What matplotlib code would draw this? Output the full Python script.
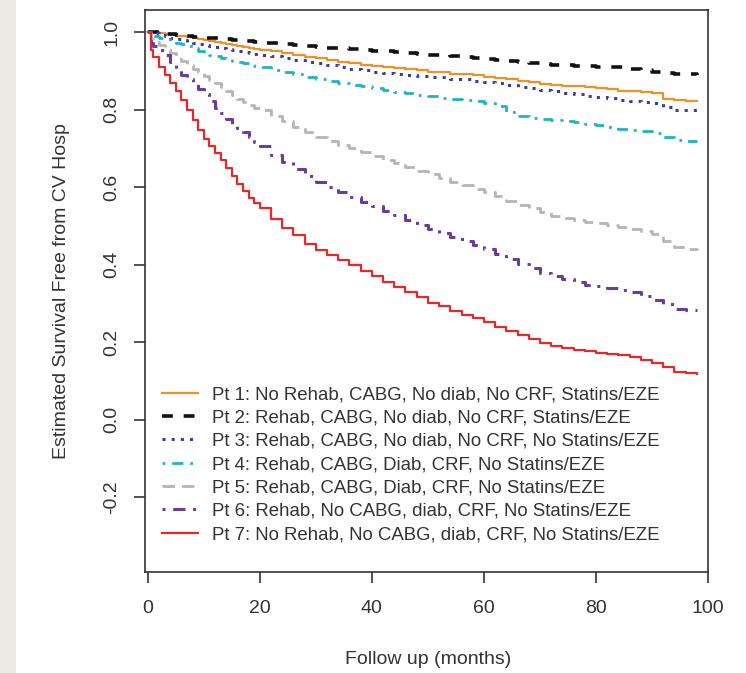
import matplotlib
matplotlib.use("Agg")
import matplotlib.pyplot as plt
from matplotlib.patches import Rectangle

plt.rcParams['font.family'] = ['Liberation Sans', 'DejaVu Sans']

# follow-up time grid (months): monthly up to 20, then every 2 months
months = [0, 0.5, 1, 2, 3, 4, 5, 6, 7, 8, 9, 10, 11, 12, 13, 14, 15, 16, 17, 18, 19, 20,
          22, 24, 26, 28, 30, 32, 34, 36, 38, 40, 42, 44, 46, 48, 50, 52, 54, 56, 58,
          60, 62, 64, 66, 68, 70, 72, 74, 76, 78, 80, 82, 84, 86, 88, 90, 92, 94, 96, 98]

pt1 = [1.0, 1.0, 0.999, 0.997, 0.995, 0.993, 0.991, 0.989, 0.987, 0.985, 0.982, 0.98,
       0.977, 0.975, 0.972, 0.97, 0.967, 0.965, 0.962, 0.96, 0.957, 0.955,
       0.95, 0.946, 0.941, 0.936, 0.932, 0.928, 0.924, 0.92, 0.916, 0.913, 0.91, 0.907,
       0.904, 0.901, 0.898, 0.896, 0.893, 0.891, 0.888, 0.885, 0.882, 0.878, 0.874,
       0.87, 0.867, 0.864, 0.862, 0.86, 0.857, 0.855, 0.852, 0.849, 0.847, 0.845, 0.842,
       0.828, 0.824, 0.823, 0.822]
pt2 = [1.0, 1.0, 1.0, 0.998, 0.996, 0.994, 0.992, 0.99, 0.989, 0.988, 0.987, 0.986,
       0.985, 0.984, 0.982, 0.981, 0.98, 0.979, 0.977, 0.976, 0.974, 0.973,
       0.971, 0.968, 0.966, 0.964, 0.962, 0.96, 0.958, 0.956, 0.954, 0.952, 0.95, 0.948,
       0.946, 0.944, 0.942, 0.94, 0.938, 0.936, 0.933, 0.931, 0.928, 0.926, 0.923, 0.92,
       0.917, 0.915, 0.914, 0.913, 0.912, 0.911, 0.91, 0.909, 0.906, 0.902, 0.898, 0.895,
       0.893, 0.891, 0.889]
pt3 = [1.0, 0.999, 0.997, 0.993, 0.989, 0.985, 0.982, 0.979, 0.975, 0.972, 0.969, 0.967,
       0.964, 0.962, 0.959, 0.957, 0.954, 0.952, 0.949, 0.947, 0.944, 0.942,
       0.937, 0.932, 0.928, 0.923, 0.919, 0.914, 0.91, 0.906, 0.902, 0.898, 0.895, 0.892,
       0.889, 0.887, 0.885, 0.883, 0.88, 0.878, 0.875, 0.872, 0.868, 0.864, 0.859, 0.855,
       0.851, 0.847, 0.843, 0.839, 0.836, 0.832, 0.829, 0.825, 0.822, 0.819, 0.816, 0.806,
       0.8, 0.798, 0.797]
pt4 = [1.0, 0.995, 0.99, 0.986, 0.982, 0.978, 0.973, 0.968, 0.963, 0.958, 0.952, 0.947,
       0.942, 0.938, 0.934, 0.93, 0.926, 0.923, 0.919, 0.916, 0.912, 0.909,
       0.903, 0.897, 0.891, 0.885, 0.879, 0.873, 0.868, 0.864, 0.86, 0.855, 0.851, 0.846,
       0.842, 0.838, 0.834, 0.831, 0.828, 0.825, 0.821, 0.817, 0.81, 0.795, 0.783, 0.779,
       0.776, 0.773, 0.77, 0.767, 0.763, 0.759, 0.755, 0.751, 0.748, 0.744, 0.74, 0.73,
       0.722, 0.72, 0.718]
pt5 = [1.0, 0.982, 0.975, 0.966, 0.956, 0.945, 0.935, 0.925, 0.915, 0.905, 0.896, 0.887,
       0.877, 0.868, 0.858, 0.848, 0.838, 0.828, 0.82, 0.812, 0.805, 0.798,
       0.784, 0.77, 0.756, 0.741, 0.73, 0.719, 0.709, 0.7, 0.69, 0.679, 0.67, 0.661,
       0.653, 0.642, 0.633, 0.624, 0.614, 0.606, 0.596, 0.586, 0.576, 0.565, 0.554, 0.545,
       0.535, 0.525, 0.519, 0.514, 0.51, 0.506, 0.502, 0.498, 0.492, 0.486, 0.478, 0.462,
       0.445, 0.44, 0.437]
pt6 = [1.0, 0.972, 0.965, 0.955, 0.94, 0.922, 0.906, 0.89, 0.878, 0.866, 0.853, 0.84,
       0.822, 0.805, 0.79, 0.776, 0.764, 0.752, 0.741, 0.73, 0.717, 0.705,
       0.683, 0.664, 0.646, 0.629, 0.614, 0.6, 0.586, 0.574, 0.562, 0.55, 0.538, 0.527,
       0.516, 0.503, 0.491, 0.481, 0.47, 0.46, 0.45, 0.44, 0.428, 0.415, 0.402, 0.39,
       0.379, 0.37, 0.362, 0.355, 0.348, 0.344, 0.339, 0.335, 0.329, 0.32, 0.309, 0.297,
       0.286, 0.284, 0.283]
pt7 = [1.0, 0.955, 0.935, 0.91, 0.89, 0.868, 0.847, 0.825, 0.798, 0.772, 0.748, 0.725,
       0.706, 0.688, 0.669, 0.65, 0.628, 0.608, 0.59, 0.572, 0.558, 0.545,
       0.518, 0.495, 0.475, 0.452, 0.437, 0.425, 0.412, 0.398, 0.384, 0.37, 0.356, 0.342,
       0.328, 0.315, 0.302, 0.292, 0.281, 0.27, 0.261, 0.251, 0.24, 0.228, 0.217, 0.207,
       0.198, 0.19, 0.184, 0.179, 0.176, 0.173, 0.17, 0.167, 0.162, 0.153, 0.146, 0.135,
       0.122, 0.119, 0.118]

labels = ["Pt 1: No Rehab, CABG, No diab, No CRF, Statins/EZE",
          "Pt 2: Rehab, CABG, No diab, No CRF, Statins/EZE",
          "Pt 3: Rehab, CABG, No diab, No CRF, No Statins/EZE",
          "Pt 4: Rehab, CABG, Diab, CRF, No Statins/EZE",
          "Pt 5: Rehab, CABG, Diab, CRF, No Statins/EZE",
          "Pt 6: Rehab, No CABG, diab, CRF, No Statins/EZE",
          "Pt 7: No Rehab, No CABG, diab, CRF, No Statins/EZE"]

x_ticks = [0, 20, 40, 60, 80, 100]
y_ticks = [-0.2, 0.0, 0.2, 0.4, 0.6, 0.8, 1.0]

fig = plt.figure(figsize=(7.46, 6.73), dpi=100)
fig.patches.append(Rectangle((0, 0), 16 / 746, 1, transform=fig.transFigure,
                             facecolor='#ebebe1', edgecolor='none'))
ax = fig.add_axes([145 / 746, 101 / 673, 563 / 746, 562 / 673])

styles = [
    dict(color='#f0902a', lw=1.6, ls='-'),
    dict(color='#111111', lw=2.6, ls=(0, (3, 3))),
    dict(color='#3c3c9c', lw=2.2, ls=(0, (1, 2))),
    dict(color='#1fb3c6', lw=2.0, ls=(0, (1, 2.5, 4, 2.5))),
    dict(color='#b5b5b5', lw=2.0, ls=(0, (4.5, 2.5))),
    dict(color='#6b3d9a', lw=2.2, ls=(0, (1, 2.5, 4, 2.5))),
    dict(color='#e8272b', lw=1.6, ls='-'),
]
series = [pt1, pt2, pt3, pt4, pt5, pt6, pt7]
for vals, lab, st in zip(series, labels, styles):
    ax.step(months, vals, where='post', label=lab, **st)

ax.set_xlim(-0.5, 100)
ax.set_ylim(-0.3935, 1.057)
ax.set_xticks(x_ticks)
ax.set_yticks(y_ticks)
ax.set_yticklabels([f"{v:.1f}" for v in y_ticks], rotation=90, va='center')
ax.tick_params(axis='both', length=8, width=1.2, color='#333333',
               labelsize=14, labelcolor='#333333')
ax.tick_params(axis='x', pad=12)
ax.tick_params(axis='y', pad=10)
for sp in ax.spines.values():
    sp.set_linewidth(1.2)
    sp.set_color('#333333')

fig.text(428 / 746, 1 - 660 / 673, "Follow up (months)", fontsize=14,
         color='#333333', ha='center', va='center')
fig.text(62 / 746, 1 - 291 / 673, "Estimated Survival Free from CV Hosp",
         fontsize=14, color='#333333', ha='center', va='center', rotation=90)

ax.legend(loc='upper left', bbox_to_anchor=(162 / 746, 1 - 386 / 673),
          bbox_transform=fig.transFigure, frameon=False, fontsize=13.4,
          handlelength=1.95, handletextpad=0.75, labelspacing=0.34,
          borderpad=0, borderaxespad=0, labelcolor='#333333')

fig.savefig("out.png", dpi=100)
